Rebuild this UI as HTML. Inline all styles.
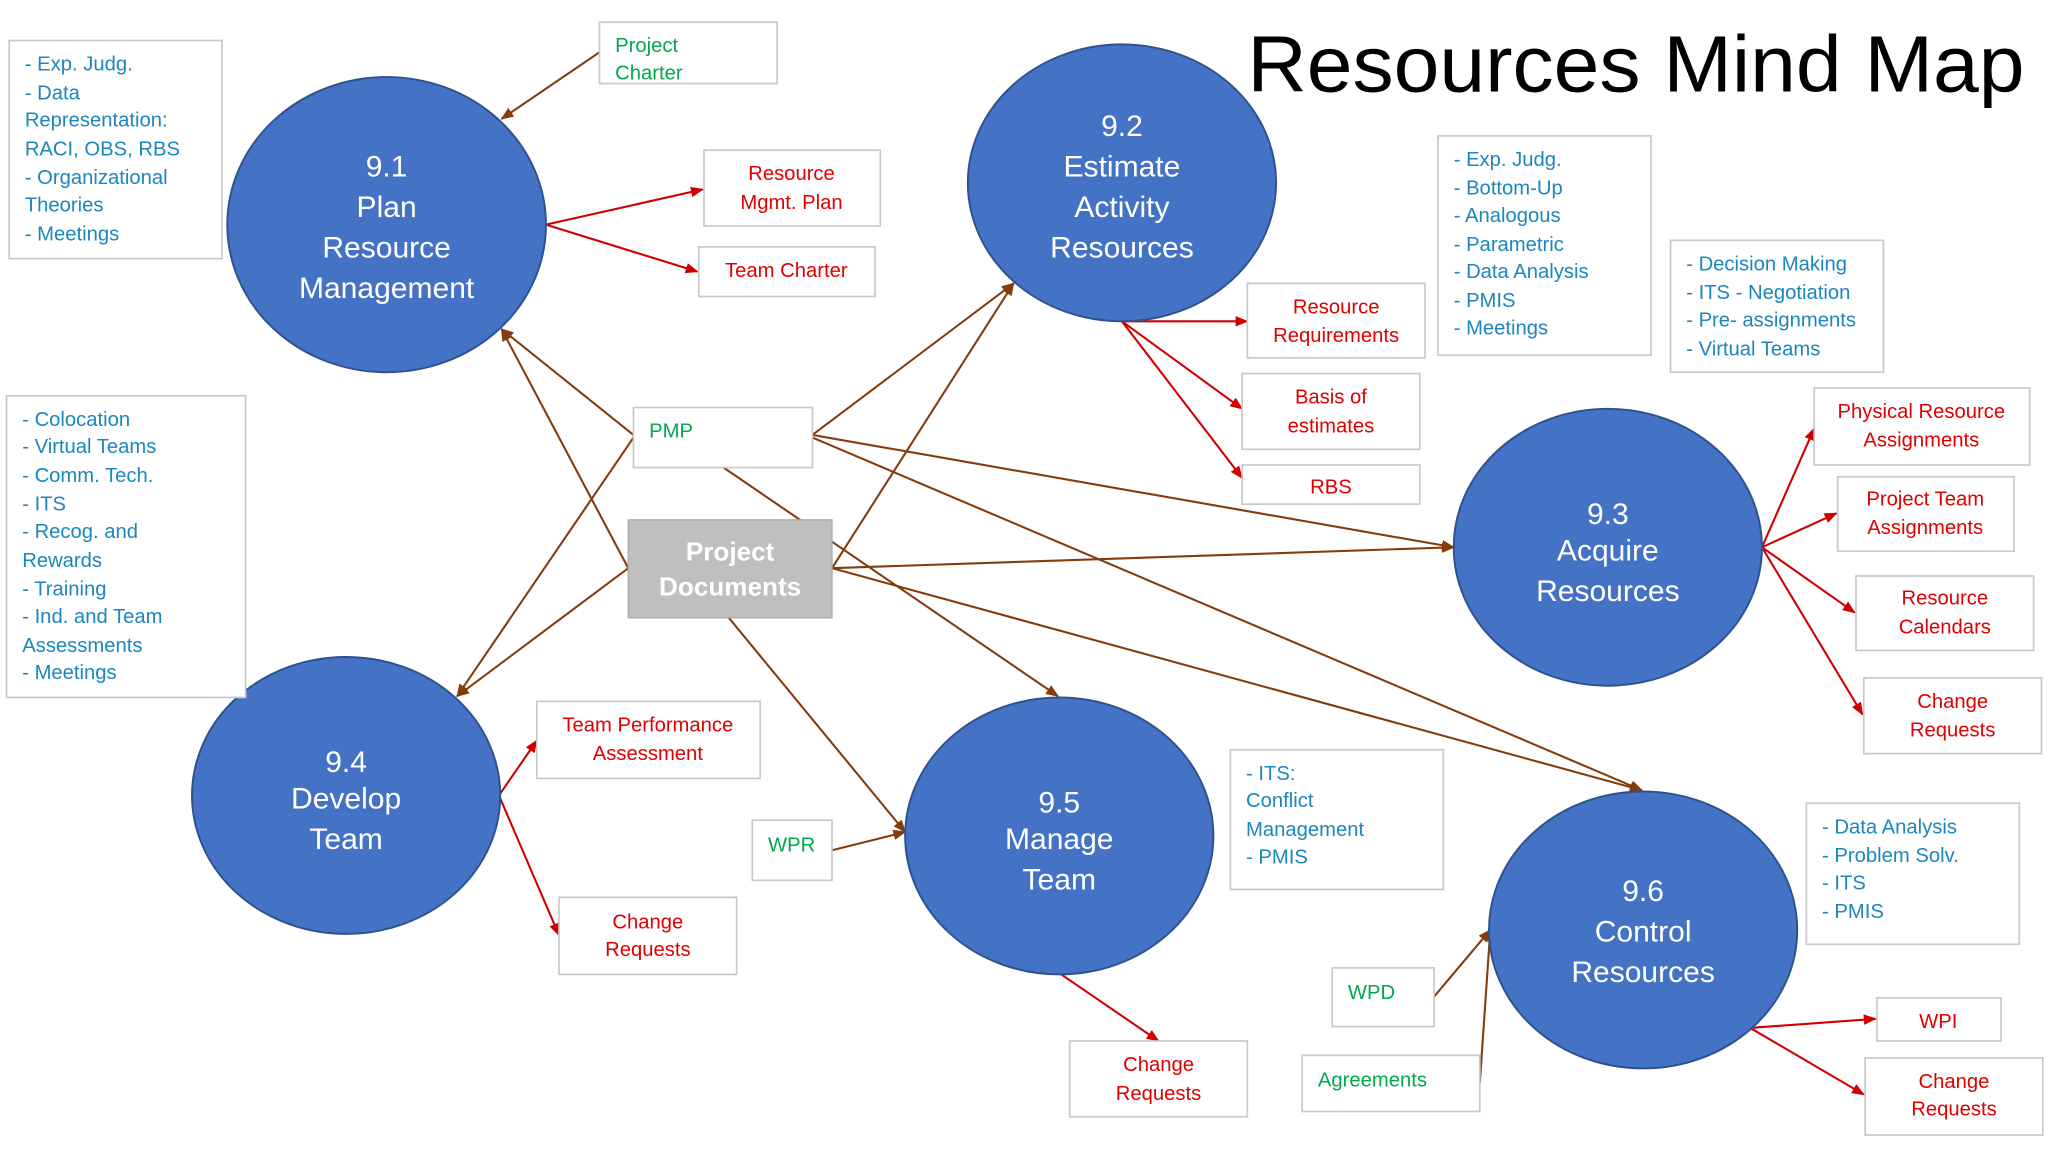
<!DOCTYPE html>
<html><head><meta charset="utf-8"><style>
html,body{margin:0;padding:0;background:#fff;width:2048px;height:1152px;overflow:hidden}
svg{display:block}
text{font-family:"Liberation Sans",sans-serif}
.b{fill:#fff;stroke:#c9c9c9;stroke-width:1.3}
.bl{fill:#1c86bd;font-size:15.5px}
.rd{fill:#e00000;font-size:15.5px;text-anchor:middle}
.gr{fill:#00a84f;font-size:15.5px}
.el{fill:#4472c4;stroke:#2f528f;stroke-width:1.5}
.et{fill:#fff;font-size:23px;text-anchor:middle}
.br{stroke:#843c0c;stroke-width:1.6;fill:none;marker-end:url(#ab)}
.rl{stroke:#d00000;stroke-width:1.6;fill:none;marker-end:url(#ar)}
</style></head><body>
<svg width="2048" height="1152" viewBox="0 0 1568 882">
<defs>
<marker id="ab" markerWidth="10" markerHeight="10" refX="9" refY="5" orient="auto" markerUnits="userSpaceOnUse"><path d="M0,1 L10,5 L0,9 z" fill="#843c0c"/></marker>
<marker id="ar" markerWidth="10" markerHeight="10" refX="9" refY="5" orient="auto" markerUnits="userSpaceOnUse"><path d="M0,1 L10,5 L0,9 z" fill="#d00000"/></marker>
</defs>
<text x="955" y="70" font-size="61" fill="#000" style="font-family:'Liberation Sans',sans-serif" textLength="595" lengthAdjust="spacingAndGlyphs">Resources Mind Map</text>

<!-- connectors -->
<line class="br" x1="459" y1="40" x2="384" y2="91"/>
<line class="rl" x1="418" y1="172" x2="538" y2="145"/>
<line class="rl" x1="418" y1="172" x2="534" y2="208"/>
<line class="br" x1="485" y1="333" x2="384" y2="252"/>
<line class="br" x1="481" y1="435" x2="384" y2="252"/>
<line class="br" x1="485" y1="335" x2="350" y2="533"/>
<line class="br" x1="481" y1="435" x2="350" y2="533"/>
<line class="br" x1="622" y1="333" x2="776" y2="217"/>
<line class="br" x1="637" y1="435" x2="776" y2="217"/>
<line class="br" x1="622" y1="333" x2="1113" y2="419"/>
<line class="br" x1="637" y1="435" x2="1113" y2="419"/>
<line class="br" x1="622" y1="335" x2="1257" y2="605"/>
<line class="br" x1="637" y1="435" x2="1257" y2="605"/>
<line class="br" x1="554" y1="358" x2="810" y2="533"/>
<line class="br" x1="558" y1="473" x2="693" y2="637"/>
<line class="br" x1="637" y1="651" x2="693" y2="637"/>
<line class="rl" x1="859" y1="246" x2="955" y2="246"/>
<line class="rl" x1="859" y1="246" x2="951" y2="313"/>
<line class="rl" x1="859" y1="246" x2="951" y2="366"/>
<line class="rl" x1="1349" y1="419" x2="1389" y2="328"/>
<line class="rl" x1="1349" y1="419" x2="1406" y2="393"/>
<line class="rl" x1="1349" y1="419" x2="1420" y2="469"/>
<line class="rl" x1="1349" y1="419" x2="1426" y2="547"/>
<line class="rl" x1="382" y1="609" x2="411" y2="567"/>
<line class="rl" x1="382" y1="609" x2="428" y2="716"/>
<line class="rl" x1="811" y1="745" x2="887" y2="797"/>
<line class="br" x1="1098" y1="763" x2="1141" y2="712"/>
<line class="br" x1="1133" y1="829" x2="1141" y2="712"/>
<line class="rl" x1="1340" y1="787" x2="1436" y2="780"/>
<line class="rl" x1="1340" y1="787" x2="1427" y2="838"/>

<!-- ellipses -->
<ellipse class="el" cx="296" cy="172" rx="122" ry="113"/>
<text class="et"><tspan x="296" y="135">9.1</tspan><tspan x="296" y="166">Plan</tspan><tspan x="296" y="197">Resource</tspan><tspan x="296" y="228">Management</tspan></text>
<ellipse class="el" cx="859" cy="140" rx="118" ry="106"/>
<text class="et"><tspan x="859" y="104">9.2</tspan><tspan x="859" y="135">Estimate</tspan><tspan x="859" y="166">Activity</tspan><tspan x="859" y="197">Resources</tspan></text>
<ellipse class="el" cx="1231" cy="419" rx="118" ry="106"/>
<text class="et"><tspan x="1231" y="401">9.3</tspan><tspan x="1231" y="429">Acquire</tspan><tspan x="1231" y="460">Resources</tspan></text>
<ellipse class="el" cx="265" cy="609" rx="118" ry="106"/>
<text class="et"><tspan x="265" y="591">9.4</tspan><tspan x="265" y="619">Develop</tspan><tspan x="265" y="650">Team</tspan></text>
<ellipse class="el" cx="811" cy="640" rx="118" ry="106"/>
<text class="et"><tspan x="811" y="622">9.5</tspan><tspan x="811" y="650">Manage</tspan><tspan x="811" y="681">Team</tspan></text>
<ellipse class="el" cx="1258" cy="712" rx="118" ry="106"/>
<text class="et"><tspan x="1258" y="690">9.6</tspan><tspan x="1258" y="721">Control</tspan><tspan x="1258" y="752">Resources</tspan></text>

<!-- boxes -->
<rect class="b" x="7" y="31" width="163" height="167"/>
<text class="bl"><tspan x="19" y="54">- Exp. Judg.</tspan><tspan x="19" y="76">- Data</tspan><tspan x="19" y="97">Representation:</tspan><tspan x="19" y="119">RACI, OBS, RBS</tspan><tspan x="19" y="141">- Organizational</tspan><tspan x="19" y="162">Theories</tspan><tspan x="19" y="184">- Meetings</tspan></text>

<rect class="b" x="459" y="17" width="136" height="47"/>
<text class="gr"><tspan x="471" y="40">Project</tspan><tspan x="471" y="61">Charter</tspan></text>

<rect class="b" x="539" y="115" width="135" height="58"/>
<text class="rd"><tspan x="606" y="138">Resource</tspan><tspan x="606" y="160">Mgmt. Plan</tspan></text>
<rect class="b" x="535" y="189" width="135" height="38"/>
<text class="rd" x="602" y="212">Team Charter</text>

<rect class="b" x="485" y="312" width="137" height="46"/>
<text class="gr" x="497" y="335">PMP</text>

<rect x="481" y="398" width="156" height="75" fill="#bfbfbf" stroke="#aaa"/>
<text fill="#fff" font-size="20" font-weight="bold" text-anchor="middle"><tspan x="559" y="429">Project</tspan><tspan x="559" y="456">Documents</tspan></text>

<rect class="b" x="5" y="303" width="183" height="231"/>
<text class="bl"><tspan x="17" y="326">- Colocation</tspan><tspan x="17" y="347">- Virtual Teams</tspan><tspan x="17" y="369">- Comm. Tech.</tspan><tspan x="17" y="391">- ITS</tspan><tspan x="17" y="412">- Recog. and</tspan><tspan x="17" y="434">Rewards</tspan><tspan x="17" y="456">- Training</tspan><tspan x="17" y="477">- Ind. and Team</tspan><tspan x="17" y="499">Assessments</tspan><tspan x="17" y="520">- Meetings</tspan></text>

<rect class="b" x="955" y="217" width="136" height="57"/>
<text class="rd"><tspan x="1023" y="240">Resource</tspan><tspan x="1023" y="262">Requirements</tspan></text>
<rect class="b" x="951" y="286" width="136" height="58"/>
<text class="rd"><tspan x="1019" y="309">Basis of</tspan><tspan x="1019" y="331">estimates</tspan></text>
<rect class="b" x="951" y="356" width="136" height="30"/>
<text class="rd" x="1019" y="378">RBS</text>

<rect class="b" x="1101" y="104" width="163" height="168"/>
<text class="bl"><tspan x="1113" y="127">- Exp. Judg.</tspan><tspan x="1113" y="149">- Bottom-Up</tspan><tspan x="1113" y="170">- Analogous</tspan><tspan x="1113" y="192">- Parametric</tspan><tspan x="1113" y="213">- Data Analysis</tspan><tspan x="1113" y="235">- PMIS</tspan><tspan x="1113" y="256">- Meetings</tspan></text>

<rect class="b" x="1279" y="184" width="163" height="101"/>
<text class="bl"><tspan x="1291" y="207">- Decision Making</tspan><tspan x="1291" y="229">- ITS - Negotiation</tspan><tspan x="1291" y="250">- Pre- assignments</tspan><tspan x="1291" y="272">- Virtual Teams</tspan></text>

<rect class="b" x="1389" y="297" width="165" height="59"/>
<text class="rd"><tspan x="1471" y="320">Physical Resource</tspan><tspan x="1471" y="342">Assignments</tspan></text>
<rect class="b" x="1407" y="365" width="135" height="57"/>
<text class="rd"><tspan x="1474" y="387">Project Team</tspan><tspan x="1474" y="409">Assignments</tspan></text>
<rect class="b" x="1421" y="441" width="136" height="57"/>
<text class="rd"><tspan x="1489" y="463">Resource</tspan><tspan x="1489" y="485">Calendars</tspan></text>
<rect class="b" x="1427" y="519" width="136" height="58"/>
<text class="rd"><tspan x="1495" y="542">Change</tspan><tspan x="1495" y="564">Requests</tspan></text>

<rect class="b" x="411" y="537" width="171" height="59"/>
<text class="rd"><tspan x="496" y="560">Team Performance</tspan><tspan x="496" y="582">Assessment</tspan></text>
<rect class="b" x="428" y="687" width="136" height="59"/>
<text class="rd"><tspan x="496" y="711">Change</tspan><tspan x="496" y="732">Requests</tspan></text>

<rect class="b" x="576" y="628" width="61" height="46"/>
<text class="gr" x="588" y="652">WPR</text>

<rect class="b" x="942" y="574" width="163" height="107"/>
<text class="bl"><tspan x="954" y="597">- ITS:</tspan><tspan x="954" y="618">Conflict</tspan><tspan x="954" y="640">Management</tspan><tspan x="954" y="661">- PMIS</tspan></text>

<rect class="b" x="1383" y="615" width="163" height="108"/>
<text class="bl"><tspan x="1395" y="638">- Data Analysis</tspan><tspan x="1395" y="660">- Problem Solv.</tspan><tspan x="1395" y="681">- ITS</tspan><tspan x="1395" y="703">- PMIS</tspan></text>

<rect class="b" x="1020" y="741" width="78" height="45"/>
<text class="gr" x="1032" y="765">WPD</text>
<rect class="b" x="997" y="808" width="136" height="43"/>
<text class="gr" x="1009" y="832">Agreements</text>

<rect class="b" x="1437" y="764" width="95" height="33"/>
<text class="rd" x="1484" y="787">WPI</text>
<rect class="b" x="1428" y="810" width="136" height="59"/>
<text class="rd"><tspan x="1496" y="833">Change</tspan><tspan x="1496" y="854">Requests</tspan></text>
<rect class="b" x="819" y="797" width="136" height="58"/>
<text class="rd"><tspan x="887" y="820">Change</tspan><tspan x="887" y="842">Requests</tspan></text>
</svg>
</body></html>
